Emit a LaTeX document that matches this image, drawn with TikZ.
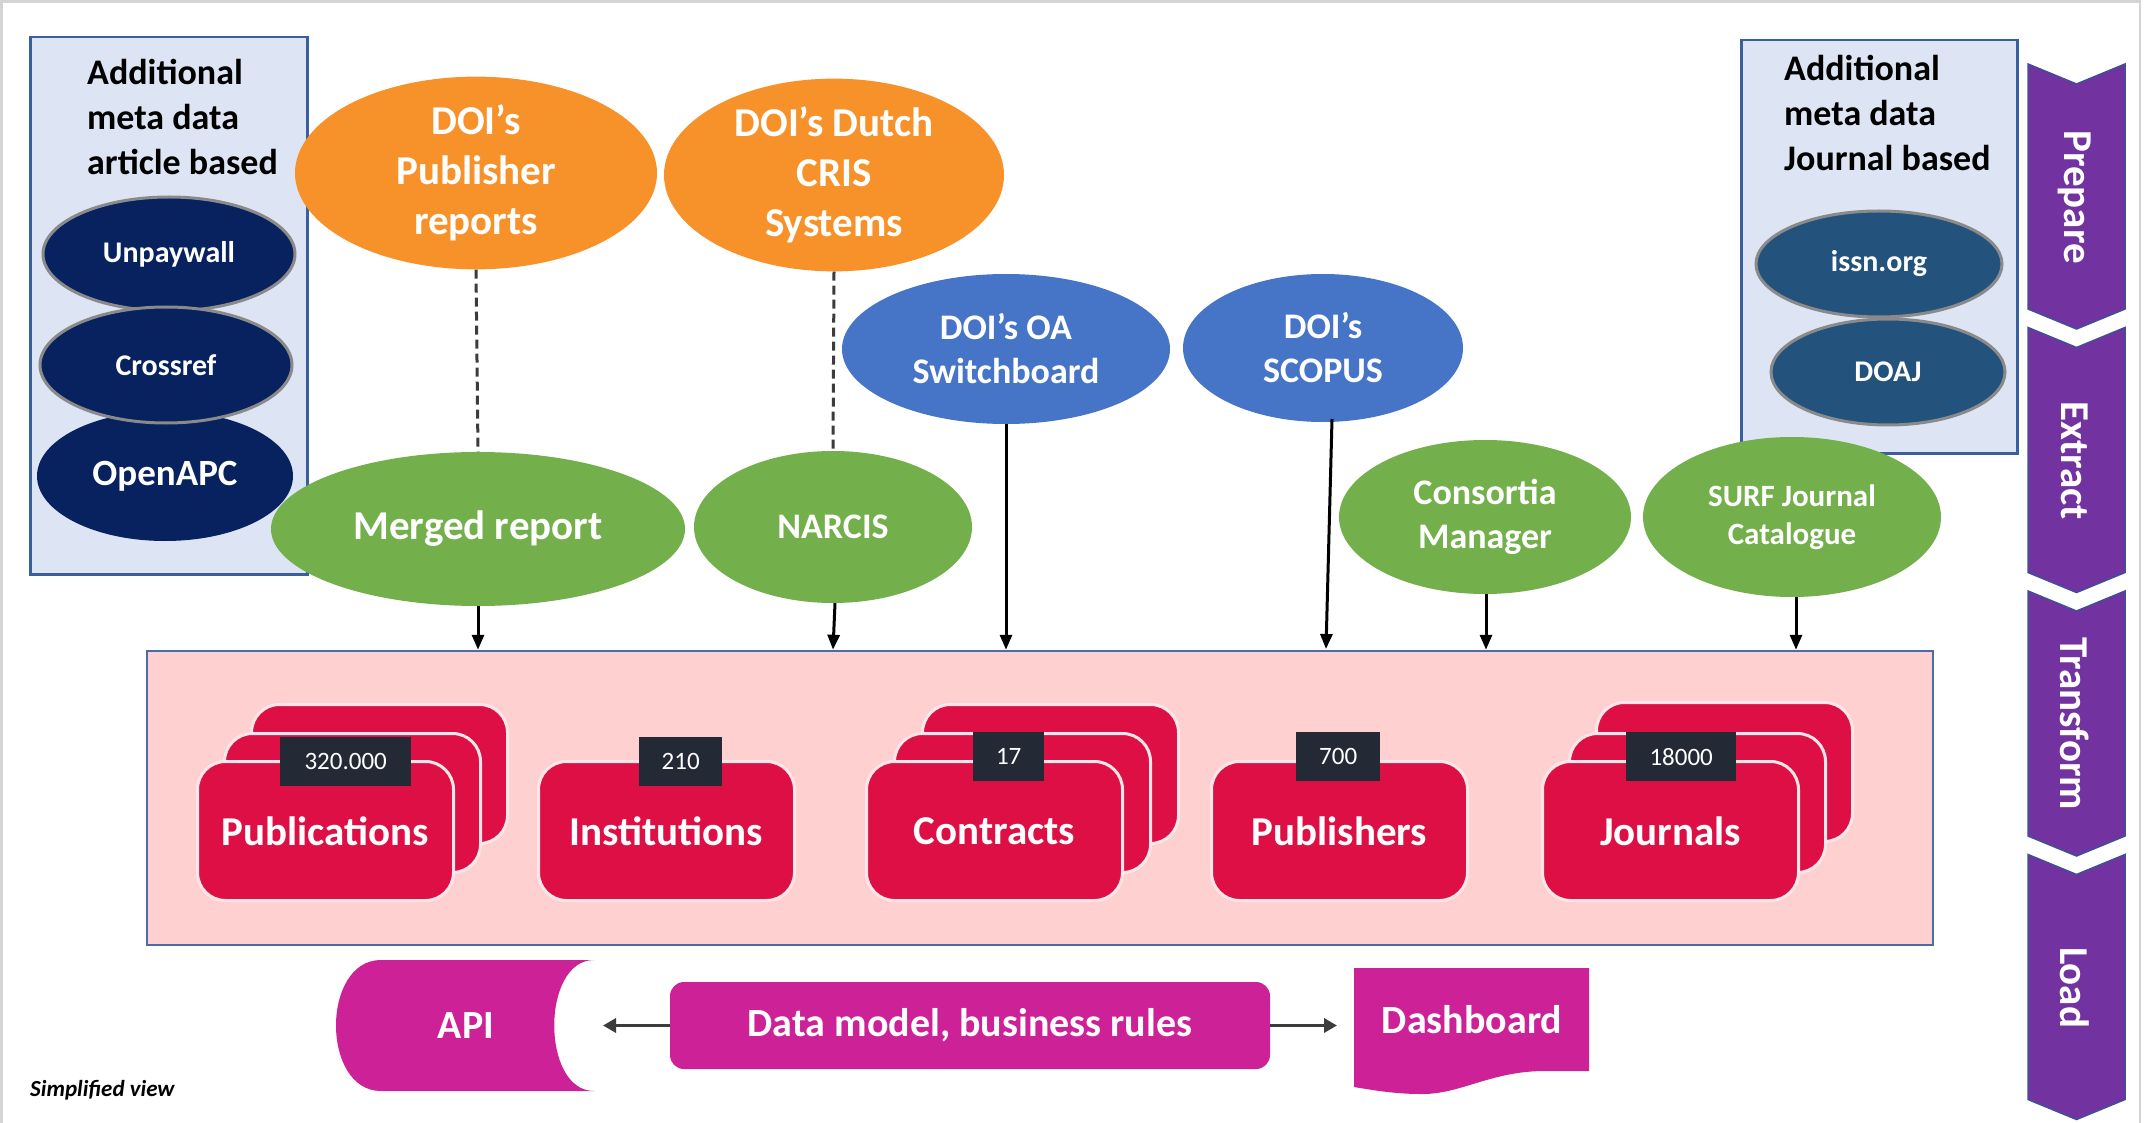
\documentclass[tikz,border=0pt]{standalone}
\usepackage{fontspec}
\setmainfont{Carlito}
\usetikzlibrary{shapes.geometric,arrows.meta}
\definecolor{navyA}{HTML}{07225F}
\definecolor{navyB}{HTML}{23527C}
\definecolor{corange}{HTML}{F7922A}
\definecolor{cblue}{HTML}{4674C6}
\definecolor{cgreen}{HTML}{73AF4B}
\definecolor{pinkbg}{HTML}{FFD0D0}
\definecolor{pinkedge}{HTML}{4A6DA7}
\definecolor{lightbox}{HTML}{DDE4F3}
\definecolor{boxedge}{HTML}{3A5F9F}
\definecolor{crimson}{HTML}{DE0F45}
\definecolor{cardedge}{HTML}{FBE6EA}
\definecolor{labdark}{HTML}{232A36}
\definecolor{cmag}{HTML}{CD2197}
\definecolor{purp}{HTML}{7232A0}
\definecolor{chevedge}{HTML}{3F4F9A}
\definecolor{cgray}{HTML}{3C3C3C}
\definecolor{ellgray}{HTML}{8A8A8A}
\definecolor{framegray}{HTML}{D4D4D4}
\newcommand\fsz[2]{\fontsize{#1pt}{#2pt}\selectfont}
\begin{document}
\begin{tikzpicture}[x=1pt,y=-1pt,
  ell/.style={ellipse, inner sep=0pt, text=white, align=center},
  arr/.style={-{Triangle[length=15pt,width=12pt]}, line width=3pt, draw=black},
  garr/.style={-{Triangle[length=13pt,width=14pt]}, line width=3.5pt, draw=cgray},
  dsh/.style={dash pattern=on 9pt off 5pt, line width=3pt, draw=cgray},
  card/.style={rectangle, rounded corners=28pt, fill=crimson, draw=cardedge, line width=3pt, minimum width=256pt, minimum height=139pt, text=white, font=\fsz{41}{50}\bfseries, anchor=north west, inner sep=0pt},
  lab/.style={rectangle, fill=labdark, text=white, font=\fsz{25}{30}, inner sep=0pt, anchor=north west},
  chev/.style={fill=purp, draw=chevedge, line width=1.5pt},
  chevtext/.style={rotate=-90, text=white, font=\fsz{41}{48}\bfseries},
  infobox/.style={rectangle, fill=lightbox, draw=boxedge, line width=2.5pt, anchor=north west, inner sep=0pt},
  navy/.style={ell, fill=navyA, draw=ellgray, line width=3pt, font=\fsz{30}{36}\bfseries},
]
\useasboundingbox (0,0) rectangle (2145,1123);
\fill[white] (0,0) rectangle (2145,1123);
\draw[framegray, line width=2.5pt] (1.5,1123) -- (1.5,1.5) -- (2140,1.5) -- (2140,1123);

% info boxes
\node[infobox, minimum width=277pt, minimum height=537pt] (lbox) at (29,36) {};
\node[anchor=north west, align=left, inner sep=0pt, font=\fsz{36}{45}\bfseries] (ltext) at (87,59) {Additional\\meta data\\article based};
\node[infobox, minimum width=276pt, minimum height=413pt] (rbox) at (1740,39) {};
\node[anchor=north west, align=left, inner sep=0pt, font=\fsz{36}{45}\bfseries] (rtext) at (1784,55) {Additional\\meta data\\Journal based};

% navy ellipses
\node[navy, minimum width=252pt, minimum height=114pt] (unpay) at (169,254) {Unpaywall};
\node[ell, fill=navyA, minimum width=256pt, minimum height=130pt, font=\fsz{37}{44}\bfseries] (openapc) at (165,476) {OpenAPC};
\node[navy, minimum width=252pt, minimum height=116pt] (crossref) at (166,365) {Crossref};
\node[navy, fill=navyB, minimum width=246pt, minimum height=106pt] (issn) at (1879,264) {issn.org};
\node[navy, fill=navyB, minimum width=234pt, minimum height=106pt] (doaj) at (1888,372) {DOAJ};

% orange / blue sources
\node[ell, fill=corange, minimum width=362pt, minimum height=170pt, font=\fsz{41}{50}\bfseries] (pubrep) at (476,173) {DOI’s\\Publisher\\reports};
\node[ell, fill=corange, minimum width=340pt, minimum height=174pt, font=\fsz{41}{50}\bfseries] (cris) at (834,175) {DOI’s Dutch\\CRIS\\Systems};
\node[ell, fill=cblue, minimum width=328pt, minimum height=150pt, font=\fsz{36}{44}\bfseries] (oasw) at (1006,349) {DOI’s OA\\Switchboard};
\node[ell, fill=cblue, minimum width=280pt, minimum height=148pt, font=\fsz{36}{44}\bfseries] (scopus) at (1323,348) {DOI’s\\SCOPUS};

% pink transform box
\node[rectangle, fill=pinkbg, draw=pinkedge, line width=2.5pt, minimum width=1786pt, minimum height=294pt, inner sep=0pt] (pink) at (1040,798) {};

% green ellipses
\node[ell, fill=cgreen, minimum width=414pt, minimum height=154pt, font=\fsz{41}{50}\bfseries] (merged) at (478,529) {Merged report};
\node[ell, fill=cgreen, minimum width=278pt, minimum height=152pt, font=\fsz{36}{44}\bfseries] (narcis) at (833,527) {NARCIS};
\node[ell, fill=cgreen, minimum width=292pt, minimum height=154pt, font=\fsz{36}{44}\bfseries] (consort) at (1485,517) {Consortia\\Manager};
\node[ell, fill=cgreen, minimum width=298pt, minimum height=160pt, font=\fsz{31}{38}\bfseries] (surf) at (1792,517) {SURF Journal\\Catalogue};

% connectors
\draw[dsh] (pubrep.south) -- (merged.north);
\draw[dsh] (cris.south) -- (narcis.north);
\draw[arr] (merged.south) -- (merged.south |- pink.north);
\draw[arr] ([xshift=2pt]narcis.south) -- (narcis.south |- pink.north);
\draw[arr] (oasw.south) -- (oasw.south |- pink.north);
\coordinate (scopend) at (1326,649);
\draw[arr] ([xshift=9pt,yshift=3pt]scopus.south) -- (scopend);
\draw[arr] ([xshift=1pt]consort.south) -- ([xshift=1pt]consort.south |- pink.north);
\draw[arr] ([xshift=4pt]surf.south) -- ([xshift=4pt]surf.south |- pink.north);

% cards
\node[card] (pubb) at (250,703) {};
\node[card] (pubm) at (223,732) {};
\node[card] (pub) at (196,760) {Publications};
\node[card] (inst) at (537,760) {Institutions};
\node[card] (conb) at (921,703) {};
\node[card] (conm) at (893,732) {};
\node[card] (con) at (865,760) {Contracts};
\node[card] (publ) at (1210,760) {Publishers};
\node[card] (jourb) at (1595,701) {};
\node[card] (jourm) at (1568,732) {};
\node[card] (jour) at (1541,760) {Journals};

% number labels
\node[lab, minimum width=131pt, minimum height=49pt] (pubn) at (280,737) {320.000};
\node[lab, minimum width=83pt, minimum height=49pt] (instn) at (639,737) {210};
\node[lab, minimum width=71pt, minimum height=49pt] (conn) at (973,732) {17};
\node[lab, minimum width=84pt, minimum height=49pt] (publn) at (1296,732) {700};
\node[lab, minimum width=110pt, minimum height=49pt] (journ) at (1626,732) {18000};

% load row
\fill[cmag] (381,960) -- (594,960) .. controls (541,960) and (541,1091) .. (594,1091) -- (381,1091) .. controls (321,1091) and (321,960) .. (381,960) -- cycle;
\node[text=white, font=\fsz{40}{48}\bfseries] (api) at (466,1026) {API};
\node[rectangle, rounded corners=14pt, fill=cmag, minimum width=600pt, minimum height=87pt, text=white, font=\fsz{40}{48}\bfseries] (dm) at (970,1025.5) {Data model, business rules};
\fill[cmag] (1354,968) -- (1589,968) -- (1589,1071) -- (1545,1071) .. controls (1490,1071) and (1460,1095) .. (1420,1094) .. controls (1395,1094) and (1372,1090) .. (1354,1087) -- cycle;
\node[text=white, font=\fsz{40}{48}\bfseries] (dash) at (1472,1020) {Dashboard};
\coordinate (apiend) at (603,1025.5);
\coordinate (dashend) at (1337,1025.5);
\draw[garr] (dm.west) -- (apiend);
\draw[garr] (dm.east) -- (dashend);

\node[anchor=west, inner sep=0pt, font=\fsz{23}{27}\bfseries\itshape] (simp) at (30,1090) {Simplified view};

% chevrons
\foreach \t/\lbl/\nm in {64/Prepare/prep, 327.5/Extract/extr, 591/Transform/trans, 854.5/Load/load}{
  \draw[chev] (2028,\t) -- (2076.5,\t+20) -- (2125,\t) -- (2125,\t+245) -- (2076.5,\t+265) -- (2028,\t+245) -- cycle;
  \node[chevtext] (\nm) at (2075,\t+133) {\lbl};
}
\end{tikzpicture}
\end{document}
